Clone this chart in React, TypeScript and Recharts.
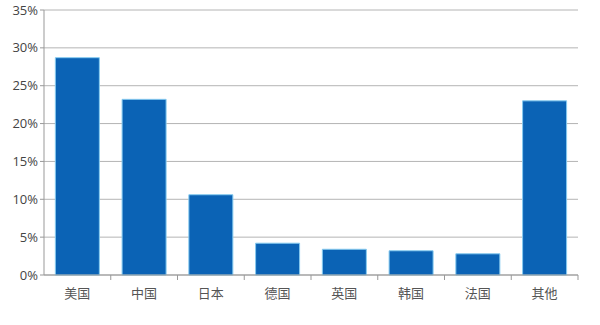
import { Bar, BarChart, CartesianGrid, XAxis, YAxis } from 'recharts';

const countries = ['美国', '中国', '日本', '德国', '英国', '韩国', '法国', '其他'];
const shares = [28.7, 23.2, 10.6, 4.2, 3.4, 3.2, 2.8, 23.0];
const yTicks = [0, 5, 10, 15, 20, 25, 30, 35];

const data = countries.map((name, i) => ({ name, share: shares[i] }));

const BAND = (600 - 44 - 22) / countries.length;

// category label plus a small tick mark on the right-hand boundary of each band
function CountryTick(props: any) {
  const { x, y, payload } = props;
  return (
    <g>
      <line x1={x + BAND / 2} x2={x + BAND / 2} y1={y - 8} y2={y - 3} stroke="#999" />
      <text
        x={x}
        y={y + 15}
        textAnchor="middle"
        fill="#555"
        fontSize={13}
        fontFamily="'Noto Sans CJK SC', sans-serif"
      >
        {payload.value}
      </text>
    </g>
  );
}

export default function App() {
  return (
    <div style={{ position: 'absolute', left: 0, top: 0, width: 600, height: 325, background: '#fff' }}>
      <BarChart
        width={600}
        height={325}
        data={data}
        margin={{ top: 10, right: 22, left: 0, bottom: 20 }}
        barCategoryGap="17%"
      >
        <CartesianGrid vertical={false} stroke="#b4b4b4" />
        <XAxis
          dataKey="name"
          tickLine={false}
          axisLine={{ stroke: '#999' }}
          tick={<CountryTick />}
          height={30}
          interval={0}
        />
        <YAxis
          width={44}
          domain={[0, 35]}
          ticks={yTicks}
          tickFormatter={(v) => `${v}%`}
          axisLine={{ stroke: '#999' }}
          tickLine={{ stroke: '#999' }}
          tickSize={4}
          tick={{ fill: '#444', fontSize: 13, fontFamily: "'Open Sans', sans-serif" }}
        />
        <Bar dataKey="share" fill="#0b63b5" stroke="#86cbf0" strokeWidth={1} isAnimationActive={false} />
      </BarChart>
    </div>
  );
}
